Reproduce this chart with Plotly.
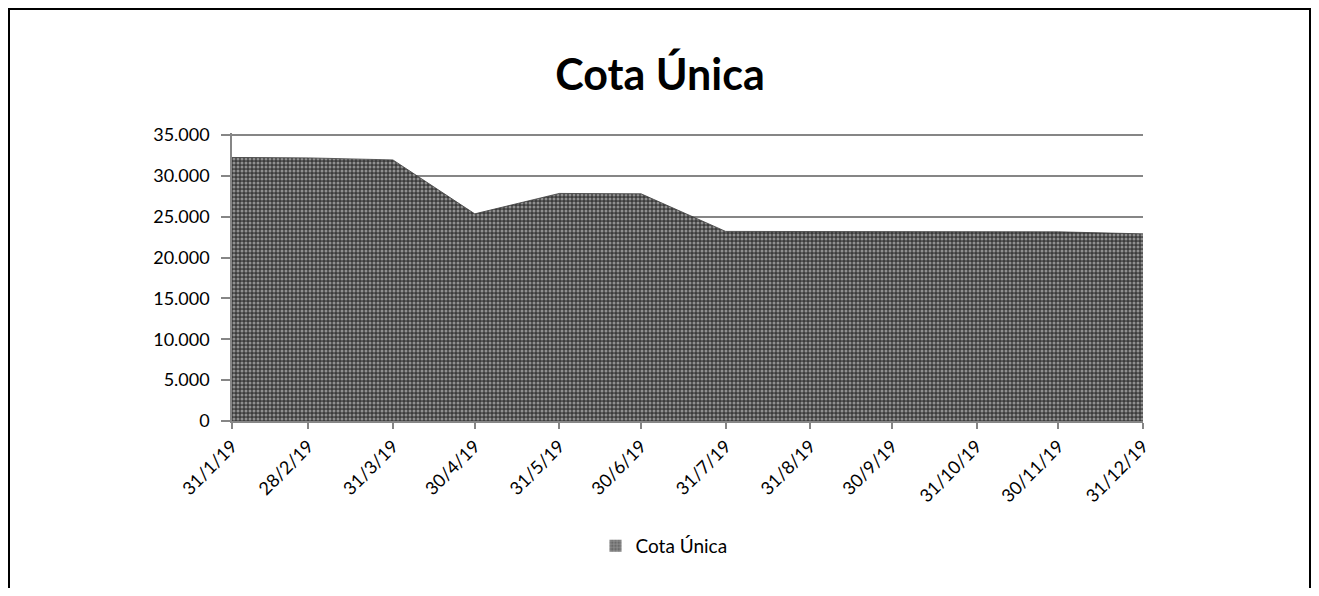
import plotly.graph_objects as go

dates = ["2019-01-31", "2019-02-28", "2019-03-31", "2019-04-30", "2019-05-31", "2019-06-30",
         "2019-07-31", "2019-08-31", "2019-09-30", "2019-10-31", "2019-11-30", "2019-12-31"]
values = [32250, 32200, 31950, 25350, 27850, 27800, 23200, 23200, 23200, 23200, 23150, 22900]
tick_labels = ["31/1/19", "28/2/19", "31/3/19", "30/4/19", "31/5/19", "30/6/19",
               "31/7/19", "31/8/19", "30/9/19", "31/10/19", "30/11/19", "31/12/19"]
y_ticks = [0, 5000, 10000, 15000, 20000, 25000, 30000, 35000]
series_name = "Cota Única"
title_text = "Cota Única"

# page body has an 8px offset; target coordinates are in screenshot pixels
OFF = 8
W, H = 1303, 580
T_SCREEN = 133
L, R, T, B = 232 - OFF, 1143 - OFF, T_SCREEN - OFF, 421 - OFF
pw, ph = R - L, B - T
y_top = 35000 * (421 - T_SCREEN) / (421 - 135)

def px(x):
    return (x - OFF - L) / pw

def py(y):
    return (B - (y - OFF)) / ph

font = "Lato, Calibri, Carlito, sans-serif"
pattern = dict(shape=".", bgcolor="#3c3c3c", fgcolor="#e4e4e4", size=4, solidity=0.45)

fig = go.Figure()
fig.add_trace(go.Scatter(
    x=dates, y=values, name=series_name, mode="lines",
    fill="tozeroy",
    line=dict(color="#3c3c3c", width=0.8),
    fillcolor="#3c3c3c",
    fillpattern=pattern,
    showlegend=False,
))
# legend entry (square swatch like the reference)
fig.add_trace(go.Bar(
    x=[None], y=[None], name=series_name,
    marker=dict(color="#3a3a3a", line=dict(width=0),
                pattern=dict(shape="+", bgcolor="#6a6a6a", fgcolor="#d8d8d8", size=4, solidity=0.3)),
    showlegend=True, hoverinfo="skip",
))

fig.update_layout(
    width=W, height=H,
    margin=dict(l=L, r=W - R, t=T, b=H - B, autoexpand=False),
    paper_bgcolor="white", plot_bgcolor="white",
    separators=",.",
    font=dict(family=font, size=18, color="#000000"),
    title=dict(text="<b>" + title_text + "</b>", x=(660 - OFF) / W, xanchor="center",
               y=1 - (75 - OFF) / H, yanchor="middle",
               font=dict(family=font, size=43, color="#000000")),
    xaxis=dict(
        type="date",
        range=[dates[0], dates[-1]],
        tickvals=dates, ticktext=tick_labels, tickangle=-45,
        showgrid=False, zeroline=False,
        showline=True, linecolor="#868686", linewidth=1.5,
        ticks="outside", ticklen=6, tickcolor="#868686", tickwidth=1.5,
        tickfont=dict(family=font, size=18, color="#000000"),
    ),
    yaxis=dict(
        range=[0, y_top], tickvals=y_ticks,
        tickformat=",d",
        showgrid=True, gridcolor="#868686", gridwidth=1.5,
        zeroline=False,
        showline=True, linecolor="#868686", linewidth=1.5,
        ticks="outside", ticklen=9, tickcolor="#868686", tickwidth=1.5,
        ticklabelstandoff=8,
        tickfont=dict(family=font, size=18, color="#000000"),
    ),
    legend=dict(orientation="h", x=px(664), xanchor="center", y=py(546), yanchor="middle",
                font=dict(family=font, size=19, color="#000000"),
                bgcolor="rgba(0,0,0,0)"),
    shapes=[dict(type="rect", xref="paper", yref="paper",
                 x0=px(9), x1=px(1310), y0=py(640), y1=py(9),
                 line=dict(color="#000000", width=2), fillcolor="rgba(0,0,0,0)", layer="above")],
)

fig.write_html("out.html")
